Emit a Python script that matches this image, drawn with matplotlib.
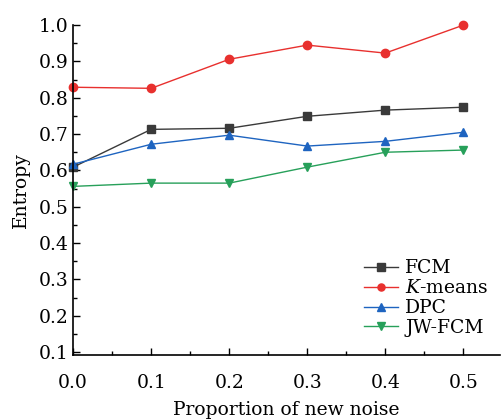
from matplotlib import pyplot as plt
from matplotlib.ticker import MultipleLocator, FormatStrFormatter

## Data -------------------------------------------------------------------
noise = [0.0, 0.1, 0.2, 0.3, 0.4, 0.5]
fcm = [0.609, 0.713, 0.716, 0.749, 0.766, 0.774]
kmeans = [0.829, 0.826, 0.906, 0.945, 0.923, 1.0]
dpc = [0.617, 0.672, 0.697, 0.667, 0.680, 0.705]
jwfcm = [0.556, 0.565, 0.565, 0.609, 0.650, 0.656]

## Set up plot ------------------------------------------------------------
fsize = 13.5
plt.rc("font", family="DejaVu Serif", size=fsize)
plt.rc("mathtext", fontset="dejavuserif")
plt.rc("axes", labelsize=fsize)
plt.rc("xtick", labelsize=fsize)
plt.rc("ytick", labelsize=fsize)
plt.rc("legend", fontsize=fsize)

fig = plt.figure(figsize=(5.01, 4.19), dpi=100)
ax = fig.add_axes([0.146, 0.153, 0.852, 0.787])

lw = 1.0
ms = 6
ax.plot(noise, fcm, "-s", color="#3a3a3a", lw=lw, ms=ms, label="FCM", clip_on=False)
ax.plot(noise, kmeans, "-o", color="#e8302e", lw=lw, ms=ms, label=r"$\it{K}$-means", clip_on=False)
ax.plot(noise, dpc, "-^", color="#1e64c0", lw=lw, ms=ms, label="DPC", clip_on=False)
ax.plot(noise, jwfcm, "-v", color="#27a05a", lw=lw, ms=ms, label="JW-FCM", clip_on=False)

ax.set_xlim((0, 0.547))
ax.set_ylim((0.092, 1.0))
ax.xaxis.set_major_locator(MultipleLocator(0.1))
ax.xaxis.set_minor_locator(MultipleLocator(0.05))
ax.yaxis.set_major_locator(MultipleLocator(0.1))
ax.yaxis.set_minor_locator(MultipleLocator(0.05))
ax.xaxis.set_major_formatter(FormatStrFormatter("%.1f"))
ax.yaxis.set_major_formatter(FormatStrFormatter("%.1f"))
ax.tick_params(which="both", direction="in", width=1.0)
ax.tick_params(which="major", length=5)
ax.tick_params(which="minor", length=3)
ax.tick_params(axis="x", which="major", pad=14)
ax.tick_params(axis="y", which="major", pad=3)

ax.spines["top"].set_visible(False)
ax.spines["right"].set_visible(False)
for s in ["left", "bottom"]:
    ax.spines[s].set_linewidth(1.2)

ax.set_xlabel("Proportion of new noise", labelpad=6)
ax.set_ylabel("Entropy")
ax.yaxis.set_label_coords(-0.10, 0.5)

ax.legend(loc="lower right", frameon=False, bbox_to_anchor=(1.0, 0.02),
          handlelength=1.8, handletextpad=0.4, labelspacing=0.1, borderaxespad=0.2,
          markerscale=0.85)

fig.savefig("out.png")
